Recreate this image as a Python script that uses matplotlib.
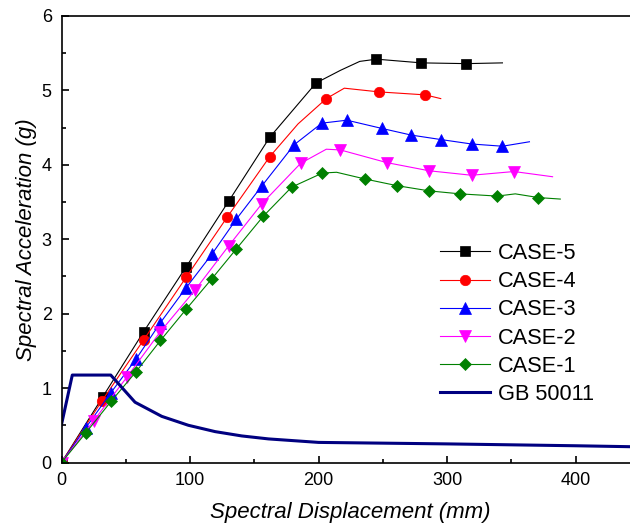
import matplotlib
matplotlib.use("Agg")
import matplotlib.pyplot as plt
from matplotlib.ticker import MultipleLocator

plt.rcParams['font.family'] = ['Liberation Sans', 'DejaVu Sans']

# ---- data ----
case5_x = [0, 32, 64, 97, 130, 162, 198, 217, 232, 245, 280, 315, 343]
case5_y = [0, 0.88, 1.76, 2.63, 3.51, 4.37, 5.10, 5.27, 5.39, 5.42, 5.37, 5.36, 5.37]
case5_mk = [0, 1, 2, 3, 4, 5, 6, 9, 10, 11]

case4_x = [0, 31.5, 64, 97, 129, 162, 184, 206, 220, 247, 283, 295]
case4_y = [0, 0.83, 1.65, 2.49, 3.30, 4.11, 4.55, 4.89, 5.03, 4.98, 4.94, 4.89]
case4_mk = [0, 1, 2, 3, 4, 5, 7, 9, 10]

case3_x = [0, 19, 38.5, 58, 77, 97, 117, 136, 156, 181, 202.5, 222, 249, 272, 295, 319, 343, 364]
case3_y = [0, 0.47, 0.94, 1.39, 1.88, 2.35, 2.80, 3.27, 3.72, 4.27, 4.56, 4.60, 4.49, 4.40, 4.34, 4.28, 4.25, 4.31]
case3_mk = list(range(17))

case2_x = [0, 25, 51, 77, 104, 130, 156, 186, 206, 217, 253, 286, 319, 352, 382]
case2_y = [0, 0.56, 1.15, 1.76, 2.32, 2.91, 3.48, 4.02, 4.21, 4.20, 4.03, 3.92, 3.86, 3.91, 3.84]
case2_mk = [0, 1, 2, 3, 4, 5, 6, 7, 9, 10, 11, 12, 13]

case1_x = [0, 19, 38.5, 58, 77, 97, 117, 136, 157, 179, 203, 214, 236, 261, 286, 310, 339, 353, 371, 388]
case1_y = [0, 0.40, 0.82, 1.22, 1.64, 2.06, 2.47, 2.87, 3.31, 3.70, 3.89, 3.90, 3.81, 3.72, 3.65, 3.61, 3.58, 3.61, 3.56, 3.54]
case1_mk = [0, 1, 2, 3, 4, 5, 6, 7, 8, 9, 10, 12, 13, 14, 15, 16, 18]

gb_x = [0, 8.4, 38.3, 57.2, 78, 98.7, 119.5, 140.2, 161, 200, 300, 400, 450]
gb_y = [0.51, 1.175, 1.175, 0.81, 0.62, 0.50, 0.415, 0.357, 0.317, 0.27, 0.25, 0.225, 0.21]

series = [
    ("CASE-5", case5_x, case5_y, case5_mk, "black", "s", 7),
    ("CASE-4", case4_x, case4_y, case4_mk, "red", "o", 7.5),
    ("CASE-3", case3_x, case3_y, case3_mk, "blue", "^", 8),
    ("CASE-2", case2_x, case2_y, case2_mk, "magenta", "v", 8),
    ("CASE-1", case1_x, case1_y, case1_mk, "green", "D", 6.5),
]

fig = plt.figure(figsize=(6.30, 5.27), dpi=100)
ax = fig.add_axes([61.5 / 630, 64.5 / 527, (640 - 61.5) / 630, (511 - 64.5) / 527])

for name, x, y, mk, c, m, ms in series:
    ax.plot(x, y, color=c, lw=0.8, marker=m, ms=ms, markevery=mk,
            markerfacecolor=c, markeredgecolor=c, markeredgewidth=0.5, label=name)
ax.plot(gb_x, gb_y, color="#000080", lw=2.2, label="GB 50011")

ax.set_xlim(0, 450)
ax.set_ylim(0, 6)
ax.xaxis.set_major_locator(MultipleLocator(100))
ax.xaxis.set_minor_locator(MultipleLocator(50))
ax.yaxis.set_major_locator(MultipleLocator(1))
ax.yaxis.set_minor_locator(MultipleLocator(0.5))
ax.tick_params(which='both', direction='in', labelsize=13, width=1.2, pad=7)
ax.tick_params(which='major', length=5)
ax.tick_params(which='minor', length=3)
ax.spines['right'].set_visible(False)
for s in ['left', 'bottom', 'top']:
    ax.spines[s].set_linewidth(1.2)

ax.set_xlabel("Spectral Displacement (mm)", fontsize=16, style='italic', labelpad=9)
ax.set_ylabel("Spectral Acceleration (g)", fontsize=16, style='italic', labelpad=3)

leg = ax.legend(loc='upper left', bbox_to_anchor=(440 / 630, 1 - 243 / 527),
                bbox_transform=fig.transFigure, frameon=False, fontsize=15.7,
                handlelength=2.3, handletextpad=0.35, labelspacing=0.33,
                borderpad=0, borderaxespad=0)

fig.savefig("out.png", dpi=100)
